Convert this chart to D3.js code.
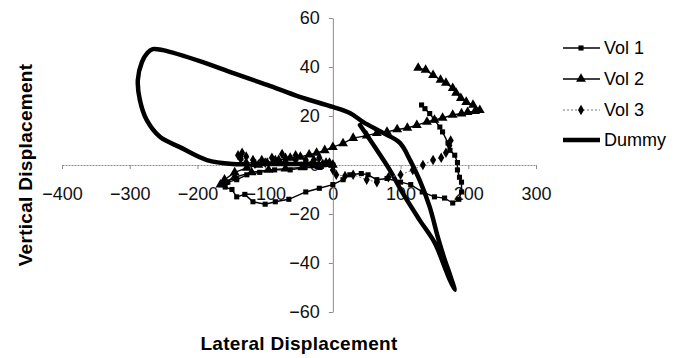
<!DOCTYPE html>
<html>
<head>
<meta charset="utf-8">
<script src="https://cdn.jsdelivr.net/npm/d3@7"></script>
<style>
  body { margin: 0; background: #fff; }
  text { font-family: "Liberation Sans", Arial, sans-serif; }
</style>
</head>
<body>
<div id="chart"></div>
<script>
/* head displacement paths: lateral vs vertical */

const xTicks = [-400, -300, -200, -100, 0, 100, 200, 300];
const yTicks = [-60, -40, -20, 0, 20, 40, 60];
const seriesNames = ["Vol 1", "Vol 2", "Vol 3", "Dummy"];

// [lateral, vertical] pairs
const vol1 = [[0,0],[-19,-1],[-41,-1],[-63,-2],[-86,-2],[-108,-3],[-127,-4],[-142,-6],[-155,-7],[-164,-8],
  [-159,-9],[-149,-10],[-142,-13],[-130,-12],[-118,-15],[-100,-16],[-85,-15],[-65,-14],[-40,-11],[-20,-9.5],
  [0,-8],[15,-6],[25,-4],[42,-3.5],[52,-4],[65,-6],[80,-5.5],[100,-7],[115,-8],[132,-11],[150,-13],[165,-13.5],
  [177,-15.5],[186,-14],[190,-11],[190,-7],[187,-5],[184,-2],[184,1],[180,4],[173,6],[170,9],[162,13.5],
  [158,15.5],[150,18.4],[143,21],[136,23],[131,24.5]];

const vol2 = [[0,0],[-20,-0.5],[-45,-1],[-70,-1.5],[-95,-2],[-120,-3],[-145,-5],[-160,-7],[-166,-8],
  [-160,-6],[-145,-3],[-127,-1.2],[-110,0],[-97,0.8],[-80,2],[-63,2.9],[-48,3.3],[-35,4.2],[-24,4.9],[-12,6],
  [0,7.3],[15,8.8],[30,11],[50,12],[65,13],[80,13.5],[95,14.5],[110,15.1],[124,16.3],[139,17.6],[150,18.4],
  [162,19.2],[177,20.4],[190,21],[199,21.6],[210,22],[217,22.4],[207,24.5],[197,25.7],[189,27.3],[182,29.4],
  [177,31.4],[167,33.5],[159,34.7],[148,36.7],[137,38.8],[126,39.6]];

const vol3 = [[0,0],[-10,1],[-20,3],[-30,1],[-40,2],[-55,4],[-70,3],[-75,4.5],[-90,3],[-105,2],[-118,2],
  [-128,3.5],[-134,5],[-140,4],[-136,2.5],[-128,1],[-115,0.5],[-100,1],[-85,2],[-70,1.5],[-55,2],[-40,1],
  [-28,2],[-15,0.5],[-5,1],[0,-2],[5,-4],[18,-4.5],[30,-4],[50,-6],[65,-7],[82,-5],[100,-4],[118,-2],
  [133,0],[148,2],[160,3],[167,5],[172,8],[174,10]];

const dummy = [[0,0],[-40,0.4],[-74,0.4],[-108,0.4],[-148,0.4],[-186,2],[-226,7.3],[-255,11.4],[-275,18.4],
  [-285,26.5],[-288,34.7],[-282,42],[-274,45.7],[-266,47.3],[-251,46.9],[-192,42],[-148,37.6],[-97,32.7],
  [-49,27.8],[0,23.7],[25,21.2],[45,17.5],[74,13.1],[99,9],[114,2],[128,-6.1],[143,-17.1],[155,-29.4],
  [164,-37.6],[174,-45.7],[180,-51],[172,-46.5],[165,-41.6],[150.5,-31.8],[128,-22.4],[103,-11.4],[84,-2],
  [65,6.1],[40,16.3]];

const width = 681, height = 358;

const svg = d3.select("#chart")
  .append("svg")
  .attr("width", width)
  .attr("height", height);

const x = d3.scaleLinear().domain([-400, 300]).range([62, 536]);
const y = d3.scaleLinear().domain([-60, 60]).range([312, 18]);

const axisColor = "#8c8c8c";

// x axis sits on y = 0
svg.append("g")
  .attr("transform", `translate(0,${y(0)})`)
  .call(d3.axisBottom(x).tickValues(xTicks).tickSizeInner(4).tickSizeOuter(0).tickPadding(18))
  .call(g => g.select(".domain").attr("stroke", axisColor).attr("stroke-dasharray", "2,1"))
  .call(g => g.selectAll(".tick line").attr("stroke", axisColor))
  .call(g => g.selectAll("text").attr("font-size", 18).attr("fill", "#111"));

svg.append("g")
  .attr("transform", `translate(${x(0)},0)`)
  .call(d3.axisLeft(y).tickValues(yTicks).tickSizeInner(4).tickSizeOuter(0).tickPadding(9))
  .call(g => g.select(".domain").attr("stroke", axisColor))
  .call(g => g.selectAll(".tick line").attr("stroke", axisColor))
  .call(g => g.selectAll("text").attr("font-size", 18).attr("fill", "#111"));

// axis titles
svg.append("text")
  .attr("transform", `translate(32,${y(0)}) rotate(-90)`)
  .attr("text-anchor", "middle")
  .attr("font-size", 19).attr("font-weight", "bold")
  .attr("letter-spacing", 0.3)
  .text("Vertical Displacement");

svg.append("text")
  .attr("x", 299).attr("y", 350)
  .attr("text-anchor", "middle")
  .attr("font-size", 19).attr("font-weight", "bold")
  .attr("letter-spacing", 0.3)
  .text("Lateral Displacement");

const line = d3.line().x(d => x(d[0])).y(d => y(d[1]));

// dummy: heavy smooth line
svg.append("path")
  .datum(dummy)
  .attr("fill", "none").attr("stroke", "#000").attr("stroke-width", 4.5)
  .attr("stroke-linejoin", "round").attr("stroke-linecap", "round")
  .attr("d", line.curve(d3.curveCatmullRom.alpha(0.5)));

line.curve(d3.curveLinear);

// vol 3: dotted grey with diamonds
svg.append("path")
  .datum(vol3)
  .attr("fill", "none").attr("stroke", "#777").attr("stroke-width", 1)
  .attr("stroke-dasharray", "2,2")
  .attr("d", line);

// vol 1 and vol 2: thin solid
for (const s of [vol1, vol2]) {
  svg.append("path")
    .datum(s)
    .attr("fill", "none").attr("stroke", "#000").attr("stroke-width", 1.4)
    .attr("d", line);
}

const sym = {
  square: d3.symbol().type(d3.symbolSquare).size(26),
  triangle: d3.symbol().type(d3.symbolTriangle).size(42),
  diamond: d3.symbol().type(d3.symbolDiamond).size(32)
};

svg.append("g").selectAll("path")
  .data(vol3).join("path")
  .attr("transform", d => `translate(${x(d[0])},${y(d[1])})`)
  .attr("d", sym.diamond()).attr("fill", "#000");

svg.append("g").selectAll("path")
  .data(vol1).join("path")
  .attr("transform", d => `translate(${x(d[0])},${y(d[1])})`)
  .attr("d", sym.square()).attr("fill", "#000");

svg.append("g").selectAll("path")
  .data(vol2).join("path")
  .attr("transform", d => `translate(${x(d[0])},${y(d[1])})`)
  .attr("d", sym.triangle()).attr("fill", "#000");

// legend
const legend = svg.append("g");
const legendY = [48, 79, 110, 140];
const styles = [
  { w: 1.4, dash: null, color: "#000", mark: sym.square },
  { w: 1.4, dash: null, color: "#000", mark: sym.triangle },
  { w: 1, dash: "2,2", color: "#777", mark: sym.diamond },
  { w: 4.5, dash: null, color: "#000", mark: null }
];

seriesNames.forEach((name, i) => {
  const g = legend.append("g").attr("transform", `translate(0,${legendY[i]})`);
  g.append("line")
    .attr("x1", 563).attr("x2", 600)
    .attr("stroke", styles[i].color)
    .attr("stroke-width", styles[i].w)
    .attr("stroke-dasharray", styles[i].dash);
  if (styles[i].mark) {
    g.append("path").attr("transform", "translate(581,0)")
      .attr("d", styles[i].mark()).attr("fill", "#000");
  }
  g.append("text")
    .attr("x", 604).attr("y", 0).attr("dy", "0.35em")
    .attr("font-size", 18)
    .text(name);
});
</script>
</body>
</html>
